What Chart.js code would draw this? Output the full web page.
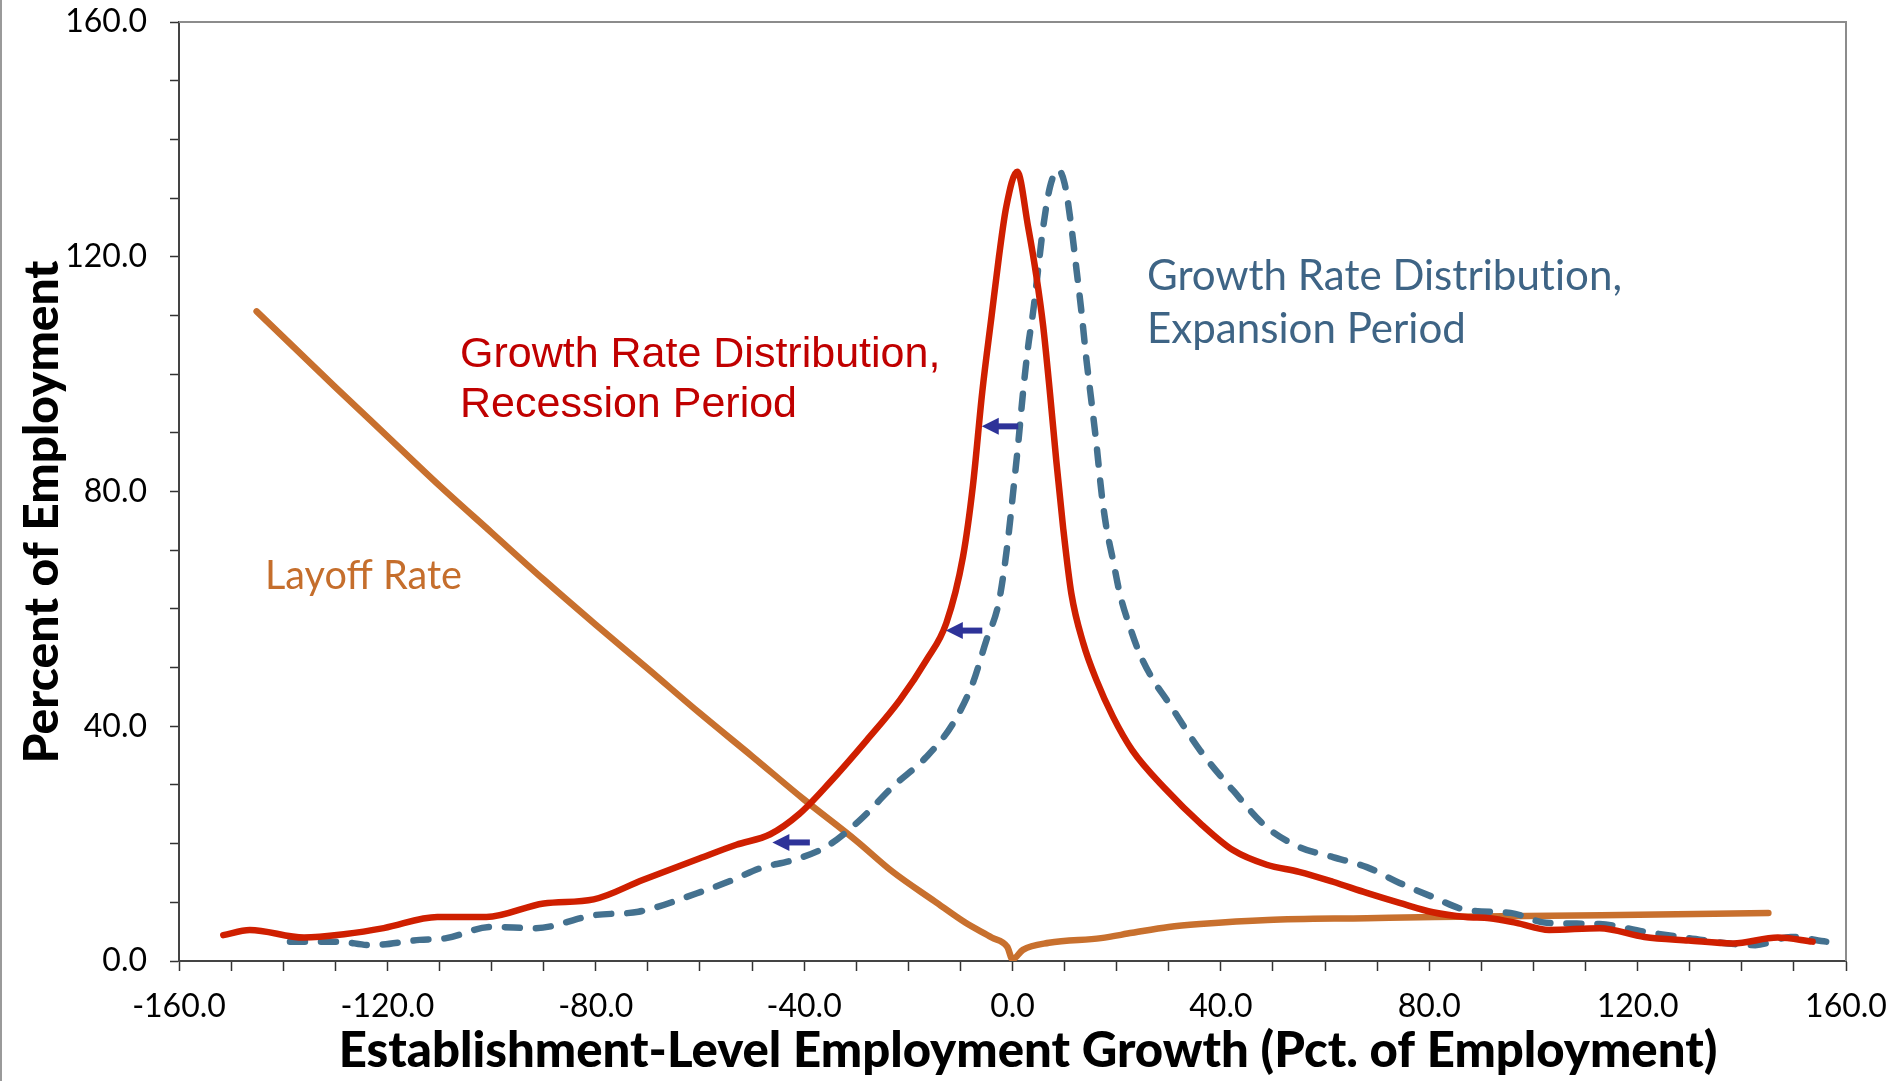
<!DOCTYPE html>
<html>
<head>
<meta charset="utf-8">
<title>Employment Growth Distribution</title>
<script src="https://cdn.jsdelivr.net/npm/chart.js@4.4.1/dist/chart.umd.min.js"></script>
<style>
  html, body { margin: 0; padding: 0; background: #fff; }
  canvas { display: block; }
</style>
</head>
<body>
<canvas id="chart" width="1897" height="1081"></canvas>
<script>
'use strict';

// Data (x = employment growth, y = percent of employment)

// Growth rate distribution, recession period (red solid)
const recessionX = [-151.5, -146.4, -136, -128, -120.7, -110.4, -101, -90, -80.4, -71, -60, -53, -46.5, -41, -35, -28, -21.6, -16.5, -12.7, -9.5, -7.6, -5.8, -4.0, -2.6, -1.2, 0.9, 3.0, 4.6, 5.9, 7.2, 8.4, 9.7, 11.3, 13.6, 16.1, 19.3, 23, 29.6, 36, 42.3, 48.8, 55, 61.5, 68, 74.3, 80.7, 87, 91.6, 96.7, 103, 112.7, 121.3, 129.8, 138.3, 146.9, 153.6];
const recessionY = [4.4, 5.3, 4.0, 4.6, 5.6, 7.5, 7.5, 9.8, 10.5, 13.8, 17.5, 19.8, 21.6, 25.0, 30.5, 37.6, 44.5, 51.3, 57.6, 68.9, 81, 97, 110, 120, 128.5, 134.5, 125.1, 116.6, 108.1, 96.7, 85.3, 74.0, 62.6, 54.1, 47.9, 41.6, 35.9, 29.1, 23.5, 18.9, 16.4, 15.2, 13.5, 11.6, 9.9, 8.3, 7.5, 7.3, 6.5, 5.3, 5.6, 4.1, 3.5, 3.0, 4.0, 3.3];

// Growth rate distribution, expansion period (blue dashed)
const expansionX = [-138.7, -129.3, -123.3, -113.8, -108.7, -100.1, -91.5, -80.4, -71.8, -60.7, -53.7, -48.5, -42.1, -35.7, -29.3, -23, -16.5, -11.4, -7.6, -5, -2.8, -1.8, -0.8, 0.1, 1.1, 2.0, 3.0, 4.0, 4.9, 5.9, 7.2, 8.75, 10.0, 11.3, 12.3, 13.2, 14.2, 15.2, 16.1, 17.1, 18.0, 19.3, 20.6, 22.5, 24.4, 27.0, 29.6, 36, 42.3, 48.8, 55.1, 61.5, 68, 74.3, 80.7, 87.1, 95.6, 102.5, 112.7, 121.3, 129.8, 142.6, 149.4, 156.2];
const expansionY = [3.3, 3.3, 2.7, 3.6, 3.9, 5.8, 5.6, 7.8, 8.4, 11.5, 13.8, 15.8, 17.2, 19.5, 24, 29.7, 34.8, 40.5, 47.4, 54.7, 60.4, 65.5, 72.3, 79.7, 88.2, 96.7, 104.7, 110.9, 117.7, 125.1, 131.9, 134.8, 132.5, 125.1, 117.7, 110.9, 102.4, 95.0, 88.2, 79.7, 74.0, 68.3, 62.6, 57.0, 52.4, 47.9, 44.5, 35.9, 29.1, 22.8, 19.4, 17.7, 16, 13.3, 10.9, 8.7, 8.2, 6.5, 6.3, 5.0, 3.9, 2.7, 4.1, 3.3];

// Layoff rate (orange)
const layoffX = [-145.1, -130, -120, -110, -100, -90, -80, -70, -60, -50, -40, -30, -23, -15, -9, -4, -1, 0, 2, 7, 17, 23, 30, 36, 49, 68, 81, 113, 145.1];
const layoffY = [110.7, 97.8, 89.4, 81.0, 73.0, 65.0, 57.3, 49.8, 42.2, 34.9, 27.5, 20.5, 15.2, 10.2, 6.5, 4.0, 2.4, 0.3, 1.9, 3.1, 3.9, 4.8, 5.8, 6.3, 7.0, 7.3, 7.5, 7.8, 8.2];

// shift arrows: tail x, tip x, y (data units)
const shiftArrows = [
  { from: 1.1, to: -5.9, y: 91.1 },
  { from: -5.8, to: -12.8, y: 56.3 },
  { from: -38.9, to: -46.1, y: 20.2 }
];

// tick labels
const xLabels = [-160, -120, -80, -40, 0, 40, 80, 120, 160];
const yLabels = [0, 40, 80, 120, 160];

const xTitle = 'Establishment-Level Employment Growth (Pct. of Employment)';
const yTitle = 'Percent of Employment';
// zero-width non-joiner keeps Lato from using its "ti" ligature
const growthLine = 'Growth Rate Distribut\u200Cion,';

function toPoints(xs, ys) {
  let pts = [];
  for (let i = 0; i < xs.length; i++) {
    pts.push({ x: xs[i], y: ys[i] });
  }
  return pts;
}

function tickList(min, max, step) {
  let out = [];
  for (let v = min; v <= max; v += step) {
    out.push({ value: v });
  }
  return out;
}

function fitSize(ctx, text, font, width) {
  ctx.font = font.replace('SIZE', '100px');
  return 100 * width / ctx.measureText(text).width;
}

// keep the plot area exactly where the layout padding puts it
function noOverflow(scale) {
  scale.paddingLeft = 0;
  scale.paddingRight = 0;
  scale.paddingTop = 0;
  scale.paddingBottom = 0;
}

// frame, titles, text labels and arrows
const decorations = {
  id: 'decorations',
  afterDraw(chart) {
    const ctx = chart.ctx;
    const area = chart.chartArea;
    const xs = chart.scales.x;
    const ys = chart.scales.y;

    ctx.save();

    // slide edge on the left
    ctx.strokeStyle = '#9a9a9a';
    ctx.lineWidth = 2;
    ctx.beginPath();
    ctx.moveTo(1, 0);
    ctx.lineTo(1, chart.height);
    ctx.stroke();

    // top and right frame of the plot
    ctx.strokeStyle = '#8c8c8c';
    ctx.lineWidth = 2;
    ctx.beginPath();
    ctx.moveTo(area.left, area.top);
    ctx.lineTo(area.right, area.top);
    ctx.lineTo(area.right, area.bottom);
    ctx.stroke();

    // axis titles
    ctx.fillStyle = '#000';
    let size = fitSize(ctx, xTitle, '900 SIZE Lato', 1379);
    ctx.font = `900 ${size}px Lato`;
    ctx.textAlign = 'center';
    ctx.textBaseline = 'alphabetic';
    ctx.fillText(xTitle, 1028, 1067);

    size = fitSize(ctx, yTitle, '900 SIZE Lato', 503);
    ctx.font = `900 ${size}px Lato`;
    ctx.save();
    ctx.translate(58, 512);
    ctx.rotate(-Math.PI / 2);
    ctx.fillText(yTitle, 0, 0);
    ctx.restore();

    // series labels
    ctx.textAlign = 'left';
    ctx.fillStyle = '#c00000';
    ctx.font = '43px "Liberation Sans", Arial, sans-serif';
    ctx.fillText('Growth Rate Distribution,', 460, 367);
    ctx.fillText('Recession Period', 460, 417);

    ctx.fillStyle = '#3e6485';
    size = fitSize(ctx, growthLine, 'SIZE Lato', 475);
    ctx.font = `${size}px Lato`;
    ctx.fillText(growthLine, 1147, 290);
    ctx.fillText('Expansion Period', 1147, 343);

    ctx.fillStyle = '#c56e2c';
    size = fitSize(ctx, 'Layoff Rate', 'SIZE Lato', 197);
    ctx.font = `${size}px Lato`;
    ctx.fillText('Layoff Rate', 265, 589);

    // arrows showing the leftward shift
    ctx.fillStyle = '#2e3399';
    ctx.strokeStyle = '#2e3399';
    ctx.lineWidth = 6;
    ctx.lineCap = 'butt';
    shiftArrows.forEach(function (a) {
      const x0 = xs.getPixelForValue(a.from);
      const x1 = xs.getPixelForValue(a.to);
      const y = ys.getPixelForValue(a.y);
      ctx.beginPath();
      ctx.moveTo(x0, y);
      ctx.lineTo(x1 + 14, y);
      ctx.stroke();
      ctx.beginPath();
      ctx.moveTo(x1, y);
      ctx.lineTo(x1 + 17, y - 8.5);
      ctx.lineTo(x1 + 17, y + 8.5);
      ctx.closePath();
      ctx.fill();
    });

    ctx.restore();
  }
};

const ctx = document.getElementById('chart').getContext('2d');

const lineStyle = {
  showLine: true,
  pointRadius: 0,
  pointHoverRadius: 0,
  fill: false,
  cubicInterpolationMode: 'monotone',
  borderCapStyle: 'round',
  borderJoinStyle: 'round',
  borderWidth: 6.5
};

let myChart = new Chart(ctx, {
  type: 'scatter',
  data: {
    datasets: [
      Object.assign({
        label: 'Growth Rate Distribution, Recession Period',
        data: toPoints(recessionX, recessionY),
        borderColor: '#cf1f00',
        order: 0
      }, lineStyle),
      Object.assign({
        label: 'Growth Rate Distribution, Expansion Period',
        data: toPoints(expansionX, expansionY),
        borderColor: '#44718f',
        borderDash: [15, 16],
        order: 1
      }, lineStyle),
      Object.assign({
        label: 'Layoff Rate',
        data: toPoints(layoffX, layoffY),
        borderColor: '#c8702e',
        order: 2
      }, lineStyle)
    ]
  },
  options: {
    responsive: false,
    animation: false,
    events: [],
    layout: { padding: { left: 0, right: 51, top: 22, bottom: 0 } },
    plugins: {
      legend: { display: false },
      tooltip: { enabled: false }
    },
    scales: {
      x: {
        type: 'linear',
        min: -160,
        max: 160,
        afterBuildTicks: function (scale) {
          scale.ticks = tickList(-160, 160, 10);
        },
        afterFit: function (scale) {
          scale.height = 120;
          noOverflow(scale);
        },
        ticks: {
          autoSkip: false,
          maxRotation: 0,
          padding: 16,
          color: '#000',
          font: { family: 'Lato', size: 32 },
          callback: function (v) {
            return xLabels.includes(v) ? v.toFixed(1) : '';
          }
        },
        grid: {
          drawOnChartArea: false,
          drawTicks: true,
          tickLength: 10,
          tickWidth: 1.5,
          color: '#333'
        },
        border: { display: true, color: '#444', width: 2 }
      },
      y: {
        type: 'linear',
        min: 0,
        max: 160,
        afterBuildTicks: function (scale) {
          scale.ticks = tickList(0, 160, 10);
        },
        afterFit: function (scale) {
          scale.width = 179;
          noOverflow(scale);
        },
        ticks: {
          autoSkip: false,
          padding: 23,
          color: '#000',
          font: { family: 'Lato', size: 32 },
          callback: function (v) {
            return yLabels.includes(v) ? v.toFixed(1) : '';
          }
        },
        grid: {
          drawOnChartArea: false,
          drawTicks: true,
          tickLength: 9,
          tickWidth: 1.5,
          color: '#333'
        },
        border: { display: true, color: '#444', width: 2 }
      }
    }
  },
  plugins: [decorations]
});
</script>
</body>
</html>
